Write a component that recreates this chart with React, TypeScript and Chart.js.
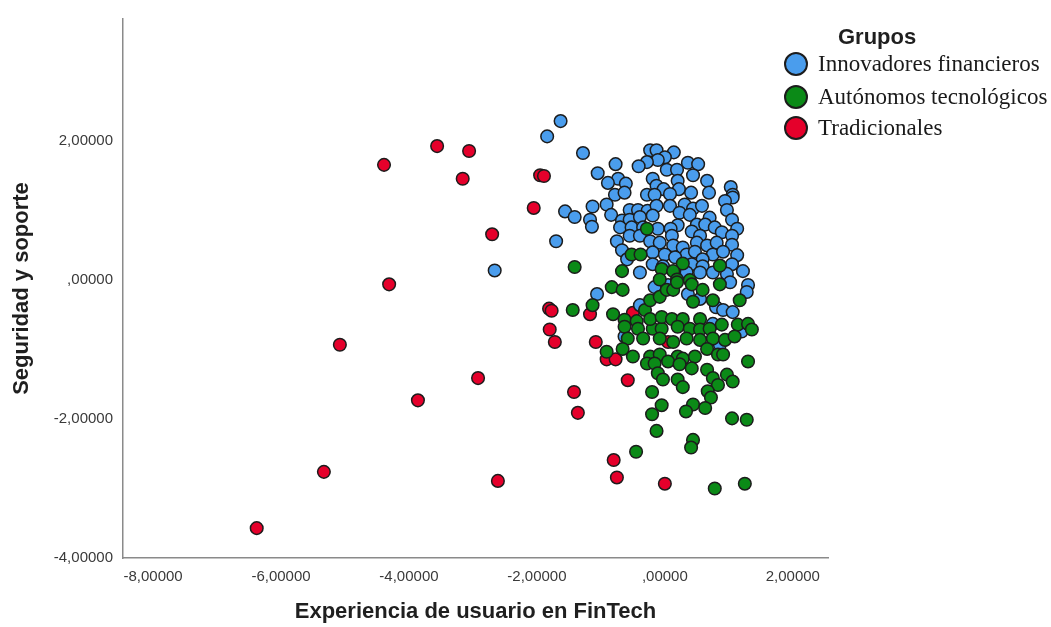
import React, { useEffect, useRef } from "react";
import { Chart, registerables } from "chart.js";

Chart.register(...registerables);

// Axis ticks
const xTicks = [-8, -6, -4, -2, 0, 2];
const xTickLabels = ["-8,00000", "-6,00000", "-4,00000", "-2,00000", ",00000", "2,00000"];
const yTicks = [-4, -2, 0, 2];
const yTickLabels = ["-4,00000", "-2,00000", ",00000", "2,00000"];
const xRange = [-8.47, 2.55];
const yRange = [-4, 3.76];

const xTitle = "Experiencia de usuario en FinTech";
const yTitle = "Seguridad y soporte";
const legendTitle = "Grupos";
const groupNames = ["Innovadores financieros", "Autónomos tecnológicos", "Tradicionales"];
const groupColors = ["#4a9ded", "#0b8a17", "#e5002b"];

// Innovadores financieros
const innovadores: [number, number][] = [
  [-1.63, 2.29], [-1.84, 2.07], [-1.28, 1.83], [-2.66, 0.14], [-1.70, 0.56],
  [-0.23, 1.87], [-0.13, 1.87], [0.14, 1.84], [0.00, 1.77], [-0.11, 1.73], [-0.28, 1.70], [-0.41, 1.64], [-0.77, 1.67], [0.36, 1.69], [0.52, 1.67],
  [-1.05, 1.54], [0.03, 1.59], [0.19, 1.59], [0.44, 1.51], [-0.73, 1.46], [-0.89, 1.40], [-0.61, 1.39], [-0.19, 1.46], [0.20, 1.43], [0.66, 1.43], [1.03, 1.34],
  [-0.13, 1.36], [-0.02, 1.31], [0.22, 1.31], [0.41, 1.26], [0.69, 1.26], [-0.78, 1.23], [-0.63, 1.26], [-0.28, 1.23], [-0.16, 1.23], [0.08, 1.24], [1.06, 1.23],
  [1.06, 1.19], [0.94, 1.14], [-1.13, 1.06], [-0.91, 1.09], [-0.55, 1.01], [-0.42, 1.01], [-0.27, 1.00], [-0.13, 1.07], [0.08, 1.07], [0.31, 1.09], [0.44, 1.03], [0.58, 1.07],
  [0.23, 0.97], [0.39, 0.94], [0.97, 1.01], [-1.56, 0.99], [-1.41, 0.91], [-0.84, 0.94], [-0.67, 0.86], [-0.55, 0.87], [-0.39, 0.91], [-0.19, 0.93], [-1.17, 0.87], [-1.14, 0.77],
  [0.70, 0.90], [1.05, 0.87], [0.20, 0.79], [0.50, 0.80], [0.63, 0.80], [0.78, 0.76], [-0.70, 0.76], [-0.52, 0.76], [-0.34, 0.76], [-0.11, 0.74], [0.09, 0.74], [1.13, 0.74],
  [-0.55, 0.64], [-0.39, 0.64], [0.11, 0.64], [0.42, 0.70], [0.55, 0.64], [0.89, 0.69], [1.05, 0.64], [-0.75, 0.56], [-0.23, 0.56], [-0.08, 0.54], [0.13, 0.50], [0.28, 0.47], [0.50, 0.54], [0.66, 0.50], [0.81, 0.54], [1.05, 0.51],
  [-0.67, 0.43], [-0.19, 0.40], [0.00, 0.37], [0.34, 0.37], [0.47, 0.41], [0.75, 0.37], [0.91, 0.41], [1.13, 0.36], [-0.59, 0.30], [0.16, 0.33], [0.59, 0.30],
  [-0.19, 0.23], [-0.03, 0.20], [0.42, 0.23], [0.59, 0.20], [1.05, 0.23], [1.22, 0.13], [-0.39, 0.11], [0.34, 0.11], [0.55, 0.11], [0.75, 0.11], [0.97, 0.09],
  [-1.06, -0.20], [-0.39, -0.36], [0.36, -0.20], [0.55, -0.27], [0.80, -0.39], [0.91, -0.43], [1.06, -0.46], [0.75, -0.63], [1.02, -0.03], [1.30, -0.07], [1.28, -0.17],
  [-0.16, -0.10], [0.05, -0.07], [1.20, -0.74], [-0.63, -0.81], [0.86, -0.93],
];

// Autónomos tecnológicos
const autonomos: [number, number][] = [
  [-1.41, 0.19], [-0.52, 0.37], [-0.38, 0.37], [-0.28, 0.74], [0.28, 0.24], [0.86, 0.21], [-0.67, 0.13], [-0.05, 0.16], [0.13, 0.13], [-0.08, 0.01], [0.19, 0.01], [0.39, 0.00],
  [-0.83, -0.10], [-0.66, -0.14], [-1.13, -0.36], [-1.44, -0.43], [-0.81, -0.49], [-0.63, -0.57], [-0.44, -0.59], [-0.31, -0.43], [-0.23, -0.29], [-0.08, -0.24], [0.03, -0.14], [0.13, -0.14],
  [0.19, -0.03], [0.42, -0.06], [0.59, -0.14], [0.86, -0.06], [0.44, -0.31], [0.75, -0.29], [1.17, -0.29],
  [-0.63, -0.67], [-0.42, -0.70], [-0.19, -0.70], [-0.05, -0.70], [-0.23, -0.56], [-0.05, -0.53], [0.11, -0.56], [0.28, -0.56], [0.55, -0.56], [0.89, -0.64], [1.14, -0.64], [1.30, -0.63], [1.36, -0.71],
  [0.20, -0.67], [0.39, -0.70], [0.55, -0.71], [0.70, -0.70],
  [-0.58, -0.84], [-0.34, -0.84], [-0.08, -0.84], [0.13, -0.89], [0.34, -0.84], [0.55, -0.86], [0.75, -0.84], [0.94, -0.86], [1.09, -0.81],
  [-0.91, -1.03], [-0.66, -0.99], [-0.50, -1.10], [-0.23, -1.10], [-0.08, -1.07], [0.20, -1.10], [0.28, -1.13], [0.47, -1.10], [0.66, -0.99], [0.83, -1.07], [0.91, -1.07], [1.30, -1.17],
  [-0.28, -1.20], [-0.16, -1.20], [0.05, -1.17], [0.23, -1.21], [0.42, -1.27], [0.66, -1.29],
  [-0.11, -1.34], [-0.03, -1.43], [0.20, -1.43], [0.28, -1.54], [0.75, -1.41], [0.83, -1.51], [0.97, -1.36], [1.06, -1.46], [0.67, -1.60], [0.72, -1.69],
  [-0.20, -1.61], [-0.05, -1.80], [-0.20, -1.93], [0.44, -1.79], [0.33, -1.89], [0.63, -1.84], [1.05, -1.99], [1.28, -2.01],
  [-0.13, -2.17], [0.44, -2.30], [0.41, -2.41], [-0.45, -2.47], [0.78, -3.00], [1.25, -2.93],
];

// Tradicionales
const tradicionales: [number, number][] = [
  [-6.38, -3.57], [-5.33, -2.76], [-5.08, -0.93], [-4.39, 1.66], [-4.31, -0.06], [-3.86, -1.73], [-3.56, 1.93], [-3.06, 1.86], [-3.16, 1.46],
  [-2.70, 0.66], [-2.92, -1.41], [-2.61, -2.89], [-2.05, 1.04], [-1.95, 1.51], [-1.89, 1.50], [-1.81, -0.41], [-1.77, -0.44], [-1.80, -0.71],
  [-1.72, -0.89], [-1.42, -1.61], [-1.36, -1.91], [-1.17, -0.49], [-1.08, -0.89], [-0.91, -1.14], [-0.77, -1.14], [-0.50, -0.47], [0.05, -0.89],
  [-0.58, -1.44], [-0.80, -2.59], [-0.75, -2.84], [0.00, -2.93],
];

const sans = "'Liberation Sans', Arial, sans-serif";
const serif = "'Liberation Serif', 'Times New Roman', serif";

export default function App() {
  const canvasRef = useRef<HTMLCanvasElement | null>(null);

  useEffect(() => {
    if (!canvasRef.current) return;
    const series = [innovadores, autonomos, tradicionales];
    const order = [2, 1, 3];
    const chart = new Chart(canvasRef.current, {
      type: "scatter",
      data: {
        datasets: series.map((s, i) => ({
          label: groupNames[i],
          data: s.map(([x, y]) => ({ x, y })),
          backgroundColor: groupColors[i],
          borderColor: "#1c1c1c",
          borderWidth: 1.5,
          pointRadius: 6.3,
          pointHoverRadius: 6.3,
          order: order[i],
        })),
      },
      options: {
        animation: false,
        responsive: true,
        maintainAspectRatio: false,
        layout: { padding: { left: 0, right: 223, top: 12, bottom: 0 } },
        plugins: { legend: { display: false }, tooltip: { enabled: false } },
        scales: {
          x: {
            type: "linear",
            min: xRange[0],
            max: xRange[1],
            grid: { display: false, drawTicks: false },
            border: { display: true, color: "#8a8a8a", width: 1.5 },
            afterBuildTicks: (s: any) => {
              s.ticks = xTicks.map((v) => ({ value: v }));
            },
            afterFit: (s: any) => {
              s.height = 69;
            },
            ticks: {
              padding: 10,
              color: "#3a3a3a",
              font: { family: sans, size: 15 },
              callback: (v: any) => xTickLabels[xTicks.indexOf(Number(v))] ?? "",
            },
            title: {
              display: true,
              text: xTitle,
              color: "#1f1f1f",
              font: { family: sans, size: 22, weight: "bold" },
              padding: { top: 0, bottom: 2 },
            },
          },
          y: {
            type: "linear",
            min: yRange[0],
            max: yRange[1],
            grid: { display: false, drawTicks: false },
            border: { display: true, color: "#8a8a8a", width: 1.5 },
            afterBuildTicks: (s: any) => {
              s.ticks = yTicks.map((v) => ({ value: v }));
            },
            afterFit: (s: any) => {
              s.width = 123;
            },
            ticks: {
              padding: 10,
              color: "#3a3a3a",
              font: { family: sans, size: 15 },
              callback: (v: any) => yTickLabels[yTicks.indexOf(Number(v))] ?? "",
            },
            title: {
              display: true,
              text: yTitle,
              color: "#1f1f1f",
              font: { family: sans, size: 22, weight: "bold" },
              padding: { top: 9, bottom: 0 },
            },
          },
        },
      },
    });
    return () => chart.destroy();
  }, []);

  const rowY = [64, 97, 128];

  return (
    <div style={{ position: "absolute", left: 0, top: 0, width: 1051, height: 627, background: "#fff" }}>
      <canvas ref={canvasRef} />
      <div
        style={{
          position: "absolute",
          left: 838,
          top: 23,
          font: `bold 22px ${sans}`,
          color: "#1f1f1f",
          lineHeight: "28px",
        }}
      >
        {legendTitle}
      </div>
      {groupNames.map((name, i) => (
        <div
          key={name}
          style={{
            position: "absolute",
            left: 784,
            top: rowY[i] - 15,
            height: 30,
            display: "flex",
            alignItems: "center",
            whiteSpace: "nowrap",
          }}
        >
          <span
            style={{
              display: "inline-block",
              width: 24,
              height: 24,
              boxSizing: "border-box",
              borderRadius: "50%",
              border: "2px solid #1c1c1c",
              background: groupColors[i],
              marginRight: 10,
            }}
          />
          <span style={{ font: `23px ${serif}`, color: "#1a1a1a" }}>{name}</span>
        </div>
      ))}
    </div>
  );
}
